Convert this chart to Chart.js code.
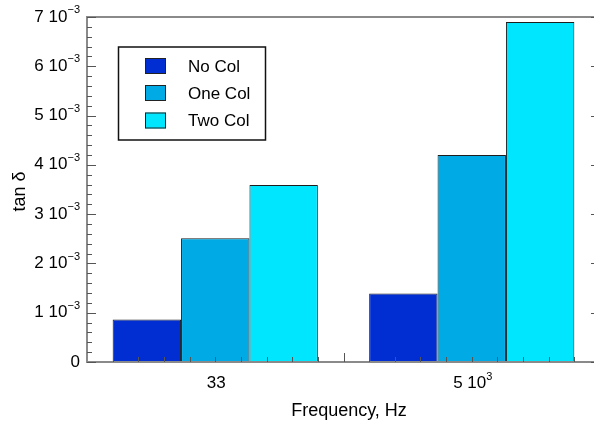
<!DOCTYPE html>
<html>
<head>
<meta charset="utf-8">
<script src="https://cdn.jsdelivr.net/npm/chart.js@4/dist/chart.umd.min.js"></script>
<style>
  html, body { margin: 0; padding: 0; background: #fff; overflow: hidden; width: 594px; height: 421px; }
  canvas { display: block; }
</style>
</head>
<body>
<canvas id="c" width="601" height="421"></canvas>
<script>
// ---- data ----
const categories = ['33', '5 10^3'];
const seriesNames = ['No Col', 'One Col', 'Two Col'];
const noCol  = [0.86e-3, 1.39e-3];
const oneCol = [2.51e-3, 4.20e-3];
const twoCol = [3.59e-3, 6.90e-3];
const yTickValues = [0, 1e-3, 2e-3, 3e-3, 4e-3, 5e-3, 6e-3, 7e-3];
const yTickLabels = ['0', '1 10^−3', '2 10^−3', '3 10^−3', '4 10^−3', '5 10^−3', '6 10^−3', '7 10^−3'];
const xTitle = 'Frequency, Hz';
const yTitle = 'tan δ';

const seriesColors = ['#002ed2', '#00aae4', '#00e6ff'];
const FONT = '"Liberation Sans", Arial, Helvetica, sans-serif';

function drawSup(ctx, text, x, y, align, size, supSize, raise) {
  const parts = text.split('^');
  const base = parts[0], sup = parts[1] || '';
  ctx.font = size + 'px ' + FONT;
  const wb = ctx.measureText(base).width;
  ctx.font = supSize + 'px ' + FONT;
  const ws = sup ? ctx.measureText(sup).width : 0;
  const total = wb + ws;
  let sx = x;
  if (align === 'right') sx = x - total;
  else if (align === 'center') sx = x - total / 2;
  ctx.textAlign = 'left';
  ctx.textBaseline = 'alphabetic';
  ctx.font = size + 'px ' + FONT;
  ctx.fillText(base, sx, y);
  if (sup) {
    ctx.font = supSize + 'px ' + FONT;
    ctx.fillText(sup, sx + wb, y - raise);
  }
}

const framePlugin = {
  id: 'frame',
  afterDatasetsDraw(chart) {
    const { ctx, chartArea: a, scales: { x, y } } = chart;
    ctx.save();
    // frame
    ctx.strokeStyle = '#8a8a8a';
    ctx.lineWidth = 2;
    ctx.beginPath();
    ctx.moveTo(a.left, a.top);
    ctx.lineTo(a.left, a.bottom);
    ctx.lineTo(a.right, a.bottom);
    ctx.lineTo(a.right, a.top);
    ctx.closePath();
    ctx.stroke();
    // y ticks (inward, left and right)
    ctx.strokeStyle = '#555';
    ctx.lineWidth = 1;
    const yMax = y.max, step = 0.2e-3;
    const nMinor = Math.round(yMax / step);
    ctx.beginPath();
    for (let i = 0; i <= nMinor; i++) {
      const py = Math.round(y.getPixelForValue(i * step)) + 0.5;
      const len = (i % 5 === 0) ? 9 : 5;
      ctx.moveTo(a.left, py); ctx.lineTo(a.left + len, py);
      ctx.moveTo(a.right, py); ctx.lineTo(a.right - len, py);
    }
    // x ticks (inward)
    const w = x.getPixelForValue(1) - x.getPixelForValue(0);
    const x0 = x.getPixelForValue(0) - w / 2;
    const nx = categories.length * 10;
    for (let i = 1; i < nx; i++) {
      const px = Math.round(x0 + i * w / 10) + 0.5;
      const len = (i % 10 === 0) ? 9 : 5;
      ctx.moveTo(px, a.bottom); ctx.lineTo(px, a.bottom - len);
    }
    ctx.stroke();

    // y tick labels
    ctx.fillStyle = '#000';
    yTickValues.forEach((v, i) => {
      const py = y.getPixelForValue(v);
      drawSup(ctx, yTickLabels[i], 80, py + 4.5, 'right', 17, 11, 8.3);
    });
    // x tick labels
    categories.forEach((c, i) => {
      const px = x.getPixelForValue(i);
      drawSup(ctx, c, px + 1, 388, 'center', 17, 11, 8.3);
    });
    // axis titles
    ctx.font = '18px ' + FONT;
    ctx.textAlign = 'center';
    ctx.textBaseline = 'alphabetic';
    ctx.fillText(xTitle, 349, 416);
    ctx.save();
    ctx.translate(25, (a.top + a.bottom) / 2 + 2);
    ctx.rotate(-Math.PI / 2);
    ctx.font = '18px ' + FONT;
    ctx.fillText(yTitle, 0, 0);
    ctx.restore();

    // legend box
    ctx.strokeStyle = '#111';
    ctx.lineWidth = 1.5;
    ctx.strokeRect(118.5, 47, 147, 93);
    const rows = [66, 93, 120.5];
    chart.data.datasets.forEach((ds, i) => {
      const cy = rows[i];
      ctx.fillStyle = ds.backgroundColor;
      ctx.fillRect(145, cy - 8, 21, 16);
      ctx.strokeStyle = '#222';
      ctx.lineWidth = 1;
      ctx.strokeRect(145.5, cy - 7.5, 20, 15);
      ctx.fillStyle = '#000';
      ctx.font = '17px ' + FONT;
      ctx.textAlign = 'left';
      ctx.textBaseline = 'middle';
      ctx.fillText(ds.label, 188, cy + 1);
    });
    ctx.restore();
  }
};

const values = [noCol, oneCol, twoCol];
new Chart(document.getElementById('c'), {
  type: 'bar',
  data: {
    labels: categories,
    datasets: seriesNames.map((name, i) => ({
      label: name,
      data: values[i],
      backgroundColor: seriesColors[i],
      borderColor: '#1e1e1e',
      borderWidth: 1,
      categoryPercentage: 0.8,
      barPercentage: 1.0
    }))
  },
  options: {
    responsive: false,
    animation: false,
    layout: { padding: { left: 0, right: 1, top: 17, bottom: 0 } },
    plugins: { legend: { display: false }, tooltip: { enabled: false } },
    scales: {
      x: {
        offset: true,
        grid: { display: false },
        border: { display: false },
        ticks: { display: false },
        afterFit(s) { s.height = 59; }
      },
      y: {
        min: 0, max: 7e-3,
        grid: { display: false },
        border: { display: false },
        ticks: { display: false, stepSize: 1e-3 },
        afterFit(s) { s.width = 87; }
      }
    }
  },
  plugins: [framePlugin]
});
</script>
</body>
</html>
